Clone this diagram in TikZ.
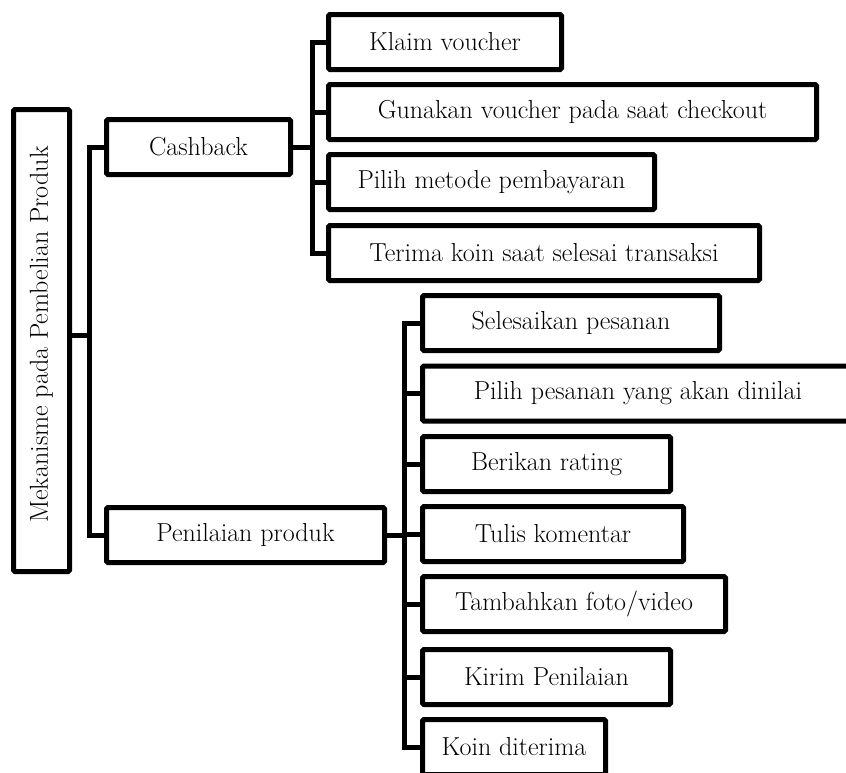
\documentclass[tikz,border=0pt]{standalone}
\begin{document}
\begin{tikzpicture}[x=1pt,y=-1pt,
  box/.style={draw, line width=5pt, rounded corners=1.5pt, inner sep=0pt,
    minimum height=55pt, font=\fontsize{26}{30}\selectfont},
  link/.style={draw, line width=5pt}]
\useasboundingbox (0,0) rectangle (846,772);
\clip (0,0) rectangle (846,772);

% root (title set a little above the box centre)
\node[box, minimum width=56pt, minimum height=462pt] (main) at (41.5,340.5)
  {\rotatebox{90}{\hspace*{12pt}Mekanisme pada Pembelian Produk}};

% first level
\node[box, minimum width=184pt] (cash) at (198.5,147) {Cashback};
\node[box, minimum width=278pt] (pen) at (245.5,535) {Penilaian produk};

% cashback steps
\node[box, minimum width=233pt] (klaim) at (445,42) {Klaim voucher};
\node[box, minimum width=488pt] (gunakan) at (572.5,112) {Gunakan voucher pada saat checkout};
\node[box, minimum width=326pt] (metode) at (491.5,182) {Pilih metode pembayaran};
\node[box, minimum width=431pt] (terima) at (544,253) {Terima koin saat selesai transaksi};

% rating steps
\node[box, minimum width=297pt] (selesai) at (571,323) {Selesaikan pesanan};
\node[box, minimum width=431pt] (pilih) at (638,393.5) {Pilih pesanan yang akan dinilai};
\node[box, minimum width=248pt] (rating) at (546.5,464) {Berikan rating};
\node[box, minimum width=261pt] (tulis) at (553,534) {Tulis komentar};
\node[box, minimum width=303pt] (foto) at (574,604) {Tambahkan foto/video};
\node[box, minimum width=248pt] (kirim) at (546.5,677) {Kirim Penilaian};
\node[box, minimum width=183pt] (koin) at (514,747) {Koin diterima};

% junctions
\coordinate (j0) at (89,335);
\coordinate (t1) at (312,147);
\coordinate (t2) at (404,535);

% root to first level
\draw[link] (j0 -| main.east) -- (j0);
\draw[link] (cash.west) -| (j0) |- (pen.west);

% cashback branch
\draw[link] (cash.east) -- (t1);
\draw[link] (klaim.west) -| (t1) |- (terima.west);
\draw[link] (gunakan.west) -- (gunakan.west -| t1);
\draw[link] (metode.west) -- (metode.west -| t1);

% rating branch
\draw[link] (pen.east) -- (t2);
\draw[link] (selesai.west) -| (t2) |- (koin.west);
\draw[link] (pilih.west) -- (pilih.west -| t2);
\draw[link] (rating.west) -- (rating.west -| t2);
\draw[link] (tulis.west) -- (tulis.west -| t2);
\draw[link] (foto.west) -- (foto.west -| t2);
\draw[link] (kirim.west) -- (kirim.west -| t2);
\end{tikzpicture}
\end{document}
